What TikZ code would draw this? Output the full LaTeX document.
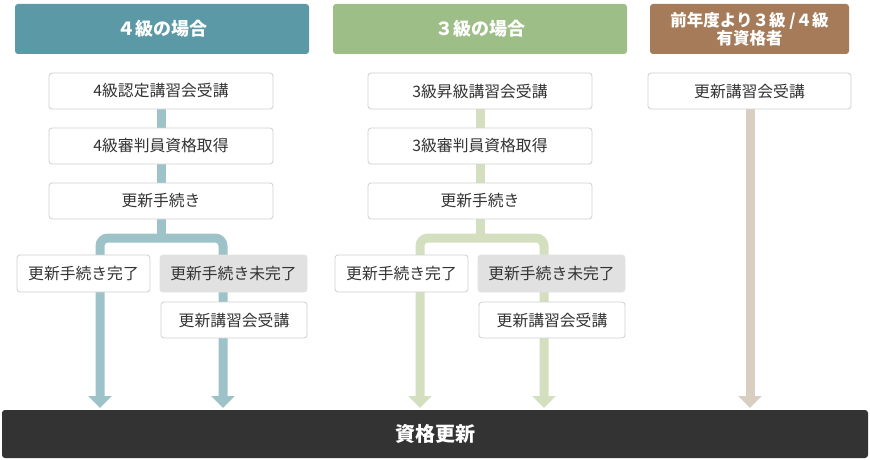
\documentclass[tikz,border=0pt]{standalone}
\usepackage{fontspec}
\setmainfont{Noto Sans CJK JP}
\usetikzlibrary{arrows.meta,backgrounds}
\definecolor{hA}{HTML}{5C99A6}
\definecolor{hB}{HTML}{9DBE86}
\definecolor{hC}{HTML}{A57B5A}
\definecolor{cA}{HTML}{9DC3C9}
\definecolor{cB}{HTML}{D4DFBF}
\definecolor{cC}{HTML}{D8CFC1}
\definecolor{txt}{HTML}{333333}
\definecolor{bord}{HTML}{CFCFCF}
\definecolor{grayfill}{HTML}{E1E1E1}
\definecolor{barfill}{HTML}{333333}
\tikzset{
  head/.style={rounded corners=3pt, text=white, font=\fontsize{18}{20}\selectfont\bfseries, minimum height=50pt, inner sep=0pt, align=center},
  stepbox/.style={draw=bord, fill=white, rounded corners=3pt, text=txt, font=\fontsize{15.8}{17}\selectfont, minimum height=36pt, inner sep=0pt, line width=0.8pt},
  graybox/.style={stepbox, fill=grayfill, draw=grayfill},
  conn/.style={line width=9pt},
  tip/.style={-{Triangle[width=23pt,length=12pt]}},
}
\begin{document}
\begin{tikzpicture}[x=1pt,y=-1pt]
\useasboundingbox (0,0) rectangle (870,460);
% headers
\node[head, fill=hA, minimum width=294pt] (h1) at (162,29) {４級の場合};
\node[head, fill=hB, minimum width=294pt] (h2) at (480,29) {３級の場合};
\node[head, fill=hC, minimum width=199pt, font=\fontsize{16.5}{18.5}\selectfont\bfseries] (h3) at (749.5,29) {前年度より３級 /４級\\有資格者};
% column 1
\node[stepbox, minimum width=224pt] (a1) at (161,91) {4級認定講習会受講};
\node[stepbox, minimum width=224pt] (a2) at (161,146) {4級審判員資格取得};
\node[stepbox, minimum width=224pt] (a3) at (161,201) {更新手続き};
\node[stepbox, minimum width=133pt, minimum height=37pt] (d1) at (83.5,273.5) {更新手続き完了};
\node[graybox, minimum width=147pt, minimum height=37pt] (u1) at (233.5,273.5) {更新手続き未完了};
\node[stepbox, minimum width=146pt] (l1) at (234,320) {更新講習会受講};
% column 2
\node[stepbox, minimum width=224pt] (b1) at (480,91) {3級昇級講習会受講};
\node[stepbox, minimum width=224pt] (b2) at (480,146) {3級審判員資格取得};
\node[stepbox, minimum width=224pt] (b3) at (480,201) {更新手続き};
\node[stepbox, minimum width=133pt, minimum height=37pt] (d2) at (401.5,273.5) {更新手続き完了};
\node[graybox, minimum width=147pt, minimum height=37pt] (u2) at (551.5,273.5) {更新手続き未完了};
\node[stepbox, minimum width=146pt] (l2) at (552,320) {更新講習会受講};
% column 3
\node[stepbox, minimum width=203pt] (c1) at (749.5,91) {更新講習会受講};
% bottom bar
\node[fill=barfill, rounded corners=3pt, minimum width=866pt, minimum height=48pt, inner sep=0pt, text=white, font=\fontsize{20}{22}\selectfont\bfseries] (bar) at (435,434) {資格更新};
% coordinates
\coordinate (j1) at (161,238);
\coordinate (j2) at (480,238);
\coordinate (t1) at (100,408);
\coordinate (t2) at (223,408);
\coordinate (t3) at (420,408);
\coordinate (t4) at (544,408);
\coordinate (t5) at (750,408);
\begin{scope}[on background layer]
  \draw[conn, cA] (a1.south) -- (a2.north);
  \draw[conn, cA] (a2.south) -- (a3.north);
  \draw[conn, cA] (a3.south) -- (j1);
  \draw[conn, cA, tip, rounded corners=8pt] (j1) -- (t1 |- j1) -- (t1);
  \draw[conn, cA, tip, rounded corners=8pt] (j1) -- (t2 |- j1) -- (t2);
  \draw[conn, cB] (b1.south) -- (b2.north);
  \draw[conn, cB] (b2.south) -- (b3.north);
  \draw[conn, cB] (b3.south) -- (j2);
  \draw[conn, cB, tip, rounded corners=8pt] (j2) -- (t3 |- j2) -- (t3);
  \draw[conn, cB, tip, rounded corners=8pt] (j2) -- (t4 |- j2) -- (t4);
  \draw[conn, cC, tip] (c1.south -| t5) -- (t5);
\end{scope}
\end{tikzpicture}
\end{document}
